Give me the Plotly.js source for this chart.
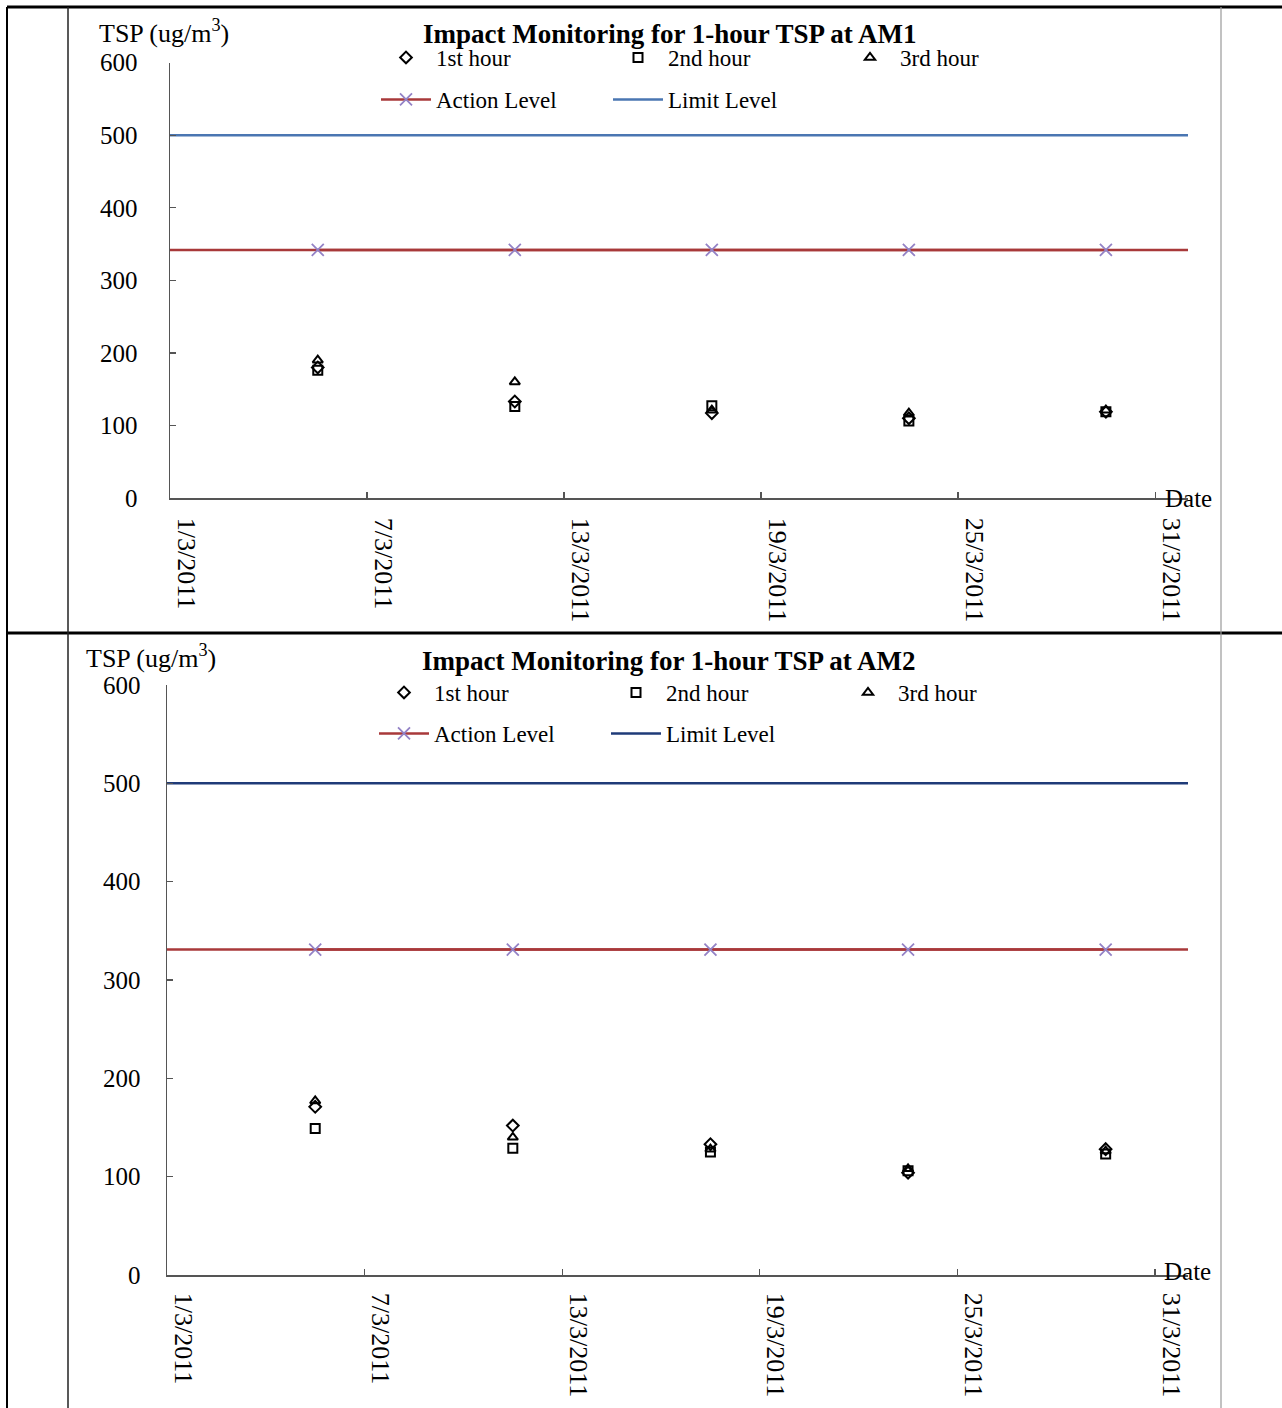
<!DOCTYPE html>
<html>
<head>
<meta charset="utf-8">
<script src="https://cdn.plot.ly/plotly-3.0.1.min.js"></script>
<style>
html,body{margin:0;padding:0;background:#fff;}
#chart{width:1282px;height:1408px;}
</style>
</head>
<body>
<div id="chart"></div>
<script>
// ---- data ----
var sampleDates = ['2011-03-05', '2011-03-11', '2011-03-17', '2011-03-23', '2011-03-29'];
var xRange = ['2011-02-28 12:00', '2011-03-31 12:00'];
var tickVals = ['2011-02-28 12:00', '2011-03-06 12:00', '2011-03-12 12:00', '2011-03-18 12:00', '2011-03-24 12:00', '2011-03-30 12:00'];
var tickText = ['1/3/2011', '7/3/2011', '13/3/2011', '19/3/2011', '25/3/2011', '31/3/2011'];

var am1Hour1 = [180, 133, 117, 110, 119];
var am1Hour2 = [176, 126, 127, 106, 119];
var am1Hour3 = [190, 160, 121, 117, 121];
var am1Action = 342;
var am1Limit = 500;

var am2Hour1 = [171, 152, 133, 104, 128];
var am2Hour2 = [149, 129, 125, 106, 123];
var am2Hour3 = [177, 140, 128, 108, 126];
var am2Action = 331;
var am2Limit = 500;

var seriesNames = ['1st hour', '2nd hour', '3rd hour'];
var levelNames = ['Action Level', 'Limit Level'];

// ---- helpers ----
var W = 1282, H = 1408;
function PX(p) { return p / W; }
function PY(p) { return 1 - p / H; }

var FONT = 'Liberation Serif, Times New Roman, serif';
var symbols = ['diamond-open', 'square-open', 'triangle-up-open'];

function buildTraces(xa, ya, hours, action, limit, legA, legB, limitColor) {
  var tr = [];
  for (var i = 0; i < 3; i++) {
    tr.push({
      type: 'scatter', mode: 'markers', name: seriesNames[i],
      x: sampleDates, y: hours[i], xaxis: xa, yaxis: ya, legend: legA,
      marker: {symbol: symbols[i], size: 9, color: '#000', line: {color: '#000', width: 2}},
      hoverinfo: 'x+y'
    });
  }
  var actionLine = [];
  for (var j = 0; j < xRange.length; j++) actionLine.push(action);
  var actionPts = [];
  for (var k = 0; k < sampleDates.length; k++) actionPts.push(action);
  var limitLine = [];
  for (var m = 0; m < xRange.length; m++) limitLine.push(limit);
  tr.push({
    type: 'scatter', mode: 'lines', x: xRange, y: actionLine, xaxis: xa, yaxis: ya,
    showlegend: false, line: {color: '#A8393A', width: 2.5}, hoverinfo: 'skip'
  });
  tr.push({
    type: 'scatter', mode: 'lines+markers', name: levelNames[0],
    x: sampleDates, y: actionPts, xaxis: xa, yaxis: ya, legend: legB,
    line: {color: '#A8393A', width: 2.5},
    marker: {symbol: 'x-thin-open', size: 12, color: '#9382C6', line: {color: '#9382C6', width: 1.8}}
  });
  tr.push({
    type: 'scatter', mode: 'lines', name: levelNames[1],
    x: xRange, y: limitLine, xaxis: xa, yaxis: ya, legend: legB,
    line: {color: limitColor, width: 2.5}
  });
  return tr;
}

var data = [].concat(
  buildTraces('x', 'y', [am1Hour1, am1Hour2, am1Hour3], am1Action, am1Limit, 'legend', 'legend2', '#4A76B2'),
  buildTraces('x2', 'y2', [am2Hour1, am2Hour2, am2Hour3], am2Action, am2Limit, 'legend3', 'legend4', '#1F3B78')
);

function xAxis(domain, anchor, standoff) {
  return {
    domain: domain, anchor: anchor, type: 'date', range: xRange,
    tickmode: 'array', tickvals: tickVals, ticktext: tickText,
    tickangle: 90, ticks: 'inside', ticklen: 6, tickwidth: 1.3, tickcolor: '#555',
    ticklabelshift: 16, ticklabelstandoff: standoff,
    showline: true, linecolor: '#555', linewidth: 1.5,
    showgrid: false, zeroline: false,
    tickfont: {family: FONT, size: 26, color: '#000'}, fixedrange: true
  };
}
function yAxis(domain, anchor, standoff) {
  return {
    domain: domain, anchor: anchor, range: [0, 600], dtick: 100, tick0: 0,
    ticks: 'inside', ticklen: 6, tickwidth: 1.3, tickcolor: '#555',
    ticklabelstandoff: standoff,
    showline: true, linecolor: '#555', linewidth: 1.5,
    showgrid: false, zeroline: false,
    tickfont: {family: FONT, size: 25, color: '#000'}, fixedrange: true
  };
}
function legendCfg(xpx, ypx) {
  return {
    orientation: 'h', x: PX(xpx), xanchor: 'left', y: PY(ypx), yanchor: 'top',
    entrywidth: 167, entrywidthmode: 'pixels', itemwidth: 50,
    font: {family: FONT, size: 23, color: '#000'}, bgcolor: 'rgba(0,0,0,0)',
    traceorder: 'normal', itemclick: false, itemdoubleclick: false
  };
}
function ann(text, xpx, ypx, xanchor, size) {
  return {
    text: text, xref: 'paper', yref: 'paper', x: PX(xpx), y: PY(ypx),
    xanchor: xanchor, yanchor: 'middle', showarrow: false,
    font: {family: FONT, size: size, color: '#000'}
  };
}
function hline(y, x0, x1, w, c) {
  return {type: 'line', xref: 'paper', yref: 'paper', x0: PX(x0), x1: PX(x1), y0: PY(y), y1: PY(y), line: {color: c, width: w}};
}
function vline(x, y0, y1, w, c) {
  return {type: 'line', xref: 'paper', yref: 'paper', x0: PX(x), x1: PX(x), y0: PY(y0), y1: PY(y1), line: {color: c, width: w}};
}

var layout = {
  width: W, height: H, margin: {l: 0, r: 0, t: 0, b: 0},
  paper_bgcolor: '#fff', plot_bgcolor: 'rgba(0,0,0,0)',
  font: {family: FONT, color: '#000'},
  showlegend: true,
  xaxis: xAxis([PX(170), PX(1188)], 'y', 13),
  yaxis: yAxis([1 - 498 / H, 1 - 62.7 / H], 'x', 26),
  xaxis2: xAxis([PX(167), PX(1188)], 'y2', 11),
  yaxis2: yAxis([1 - 1275 / H, 1 - 685 / H], 'x2', 20),
  legend: legendCfg(376, 36),
  legend2: legendCfg(376, 78),
  legend3: legendCfg(374, 671),
  legend4: legendCfg(374, 712),
  annotations: [
    ann('<b>Impact Monitoring for 1-hour TSP at AM1</b>', 670, 34, 'center', 27),
    ann('TSP (ug/m<sup>3</sup>)', 97, 32, 'left', 26),
    ann('Date', 1163, 498, 'left', 25),
    ann('<b>Impact Monitoring for 1-hour TSP at AM2</b>', 669, 661, 'center', 27),
    ann('TSP (ug/m<sup>3</sup>)', 84, 657, 'left', 26),
    ann('Date', 1162, 1271, 'left', 25)
  ],
  shapes: [
    hline(7, 7, 1282, 3, '#000'),
    hline(633, 7, 1282, 3, '#000'),
    vline(7, 7, 1408, 2, '#000'),
    vline(68, 7, 1408, 1.5, '#222'),
    vline(1221, 7, 1408, 1.2, '#999')
  ]
};

Plotly.newPlot('chart', data, layout, {displayModeBar: false, staticPlot: true});
</script>
</body>
</html>
